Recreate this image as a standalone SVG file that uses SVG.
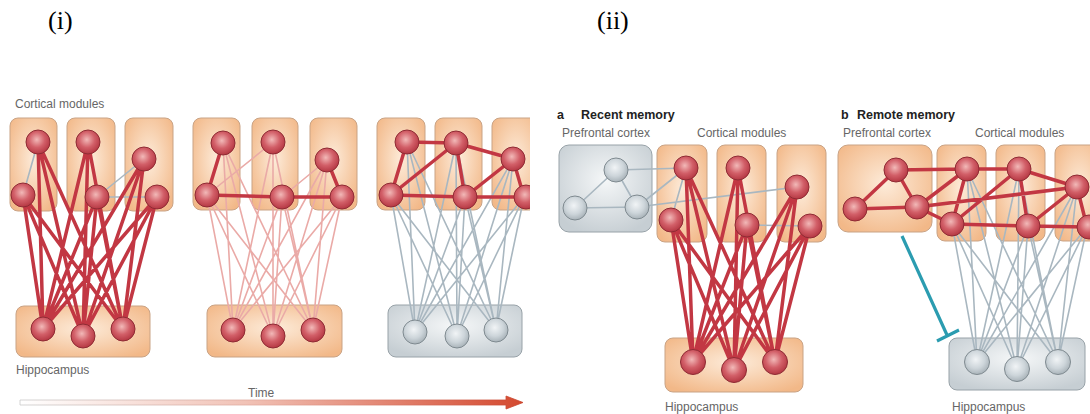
<svg xmlns="http://www.w3.org/2000/svg" width="1090" height="414" viewBox="0 0 1090 414">
<defs>
<radialGradient id="gOr" cx="50%" cy="45%" r="65%"><stop offset="0" stop-color="#fdebd9"/><stop offset="1" stop-color="#f2b888"/></radialGradient>
<radialGradient id="gGr" cx="50%" cy="40%" r="65%"><stop offset="0" stop-color="#f5f7f8"/><stop offset="1" stop-color="#c6ced3"/></radialGradient>
<radialGradient id="gNR" cx="45%" cy="40%" r="60%"><stop offset="0" stop-color="#f2b9b8"/><stop offset="0.55" stop-color="#d25f68"/><stop offset="1" stop-color="#b53843"/></radialGradient>
<radialGradient id="gNG" cx="45%" cy="40%" r="60%"><stop offset="0" stop-color="#f1f4f6"/><stop offset="0.6" stop-color="#cdd5da"/><stop offset="1" stop-color="#a9b3b9"/></radialGradient>
<linearGradient id="gTime" x1="0" y1="0" x2="1" y2="0"><stop offset="0" stop-color="#ffffff"/><stop offset="0.45" stop-color="#f1c2b6"/><stop offset="1" stop-color="#d4492f"/></linearGradient>
<linearGradient id="gTimeS" x1="0" y1="0" x2="1" y2="0"><stop offset="0" stop-color="#c9c9c9"/><stop offset="0.5" stop-color="#e3a89b"/><stop offset="1" stop-color="#c9432c"/></linearGradient>
<clipPath id="clipI"><rect x="0" y="0" width="530" height="414"/></clipPath>
</defs>
<style>
.bo{fill:url(#gOr);stroke:#c9a385;stroke-width:1}
.bg{fill:url(#gGr);stroke:#98a2a8;stroke-width:1}
.nr{fill:url(#gNR);stroke:#8f2b34;stroke-width:1}
.ng{fill:url(#gNG);stroke:#7f8a90;stroke-width:1}
.tk{stroke:#c23743;stroke-width:3.5;stroke-linecap:round;fill:none}
.gy{stroke:#a9b7c0;stroke-width:1.6;fill:none}
.pk{stroke:#eaaaa7;stroke-width:1.6;fill:none}
.lb{font-family:"Liberation Sans",Arial,sans-serif;font-size:12px;fill:#666}
.hd{font-family:"Liberation Sans",Arial,sans-serif;font-size:12.5px;font-weight:bold;fill:#222}
.rm{font-family:"Liberation Serif","Times New Roman",serif;font-size:26px;fill:#000}
</style>

<text class="rm" x="48" y="29">(i)</text>
<text class="rm" x="597" y="29">(ii)</text>

<!-- Panel (i) labels -->
<text class="lb" x="15" y="108">Cortical modules</text>
<text class="lb" x="16" y="374">Hippocampus</text>
<text class="lb" x="248" y="397">Time</text>

<!-- Panel (ii) labels -->
<text class="hd" x="557" y="119" font-size="13">a</text>
<text class="hd" x="581" y="119">Recent memory</text>
<text class="lb" x="562" y="137">Prefrontal cortex</text>
<text class="lb" x="697" y="137">Cortical modules</text>
<text class="lb" x="665" y="411">Hippocampus</text>
<text class="hd" x="841" y="119" font-size="13">b</text>
<text class="hd" x="857" y="119">Remote memory</text>
<text class="lb" x="843" y="137">Prefrontal cortex</text>
<text class="lb" x="975" y="137">Cortical modules</text>
<text class="lb" x="952" y="411">Hippocampus</text>

<!-- Boxes -->
<g id="s1-mod1"><rect class="bo" x="10" y="118" width="47" height="93" rx="8"/></g>
<g id="s1-mod2"><rect class="bo" x="67" y="118" width="48" height="93" rx="8"/></g>
<g id="s1-mod3"><rect class="bo" x="125" y="118" width="48" height="93" rx="8"/></g>
<g id="s1-hippo"><rect class="bo" x="16" y="306" width="134" height="51" rx="8"/></g>
<g id="s2-mod1"><rect class="bo" x="193" y="118" width="47" height="92" rx="8"/></g>
<g id="s2-mod2"><rect class="bo" x="252" y="118" width="46" height="92" rx="8"/></g>
<g id="s2-mod3"><rect class="bo" x="310" y="118" width="47" height="92" rx="8"/></g>
<g id="s2-hippo"><rect class="bo" x="207" y="305" width="135" height="52" rx="8"/></g>
<g id="s3-mod1"><rect class="bo" x="377" y="118" width="48" height="92" rx="8"/></g>
<g id="s3-mod2"><rect class="bo" x="435" y="118" width="47" height="92" rx="8"/></g>
<g id="s3-mod3" clip-path="url(#clipI)"><rect class="bo" x="492" y="118" width="48" height="92" rx="8"/></g>
<g id="s3-hippo"><rect class="bg" x="388" y="305" width="134" height="52" rx="8"/></g>

<g id="a-pfc"><rect class="bg" x="559" y="145" width="93" height="87" rx="10"/></g>
<g id="a-mod1"><rect class="bo" x="657" y="145" width="50" height="97" rx="8"/></g>
<g id="a-mod2"><rect class="bo" x="717" y="145" width="49" height="97" rx="8"/></g>
<g id="a-mod3"><rect class="bo" x="777" y="145" width="49" height="97" rx="8"/></g>
<g id="a-hippo"><rect class="bo" x="665" y="338" width="138" height="54" rx="8"/></g>
<g id="b-pfc"><rect class="bo" x="838" y="145" width="94" height="87" rx="10"/></g>
<g id="b-mod1"><rect class="bo" x="937" y="145" width="49" height="96" rx="8"/></g>
<g id="b-mod2"><rect class="bo" x="996" y="145" width="49" height="96" rx="8"/></g>
<g id="b-mod3"><rect class="bo" x="1055" y="145" width="49" height="96" rx="8"/></g>
<g id="b-hippo"><rect class="bg" x="949" y="338" width="136" height="52" rx="8"/></g>

<!-- Connectors -->
<g id="connectors">
  <!-- stage 1 -->
  <path class="gy" d="M38,142 L23,195 M97,197 L144,159 M97,197 L157,197"/>
  <path class="tk" d="M38,142 L43,329 M38,142 L83,336 M38,142 L123,329 M23,195 L43,329 M23,195 L83,336 M23,195 L123,329 M88,142 L43,329 M88,142 L83,336 M88,142 L123,329 M97,197 L43,329 M97,197 L83,336 M97,197 L123,329 M144,159 L43,329 M144,159 L83,336 M144,159 L123,329 M157,197 L43,329 M157,197 L83,336 M157,197 L123,329"/>
  <!-- stage 2 -->
  <path class="pk" d="M223,143 L233,330 M223,143 L273,336 M223,143 L313,330 M207,195 L233,330 M207,195 L273,336 M207,195 L313,330 M273,142 L233,330 M273,142 L273,336 M273,142 L313,330 M282,197 L233,330 M282,197 L273,336 M282,197 L313,330 M327,160 L233,330 M327,160 L273,336 M327,160 L313,330 M342,197 L233,330 M342,197 L273,336 M342,197 L313,330"/>
  <path class="pk" d="M207,195 L273,142 M282,197 L327,160"/>
  <path class="tk" d="M223,143 L207,195 M207,195 L282,197 M282,197 L342,197 M327,160 L342,197"/>
  <!-- stage 3 -->
  <path class="gy" d="M407,142 L415,332 M407,142 L457,336 M407,142 L496,330 M391,195 L415,332 M391,195 L457,336 M391,195 L496,330 M456,143 L415,332 M456,143 L457,336 M456,143 L496,330 M465,197 L415,332 M465,197 L457,336 M465,197 L496,330 M513,159 L415,332 M513,159 L457,336 M513,159 L496,330 M524,197 L415,332 M524,197 L457,336 M524,197 L496,330"/>
  <path class="tk" d="M407,142 L456,143 M407,142 L391,195 M391,195 L456,143 M456,143 L465,197 M456,143 L513,159 M391,195 L465,197 M465,197 L513,159 M465,197 L524,197 M513,159 L524,197"/>
  <!-- panel a -->
  <path class="gy" d="M616,170 L575,208 M616,170 L637,207 M575,208 L637,207 M616,170 L686,168 M637,207 L686,168 M637,207 L797,187 M686,168 L671,220 M747,225 L810,226"/>
  <path class="tk" d="M686,168 L693,362 M686,168 L734,370 M686,168 L775,362 M671,220 L693,362 M671,220 L734,370 M671,220 L775,362 M738,168 L693,362 M738,168 L734,370 M738,168 L775,362 M747,225 L693,362 M747,225 L734,370 M747,225 L775,362 M797,187 L693,362 M797,187 L734,370 M797,187 L775,362 M810,226 L693,362 M810,226 L734,370 M810,226 L775,362"/>
  <!-- panel b -->
  <path class="gy" d="M967,169 L977,362 M967,169 L1017,369 M967,169 L1058,362 M952,224 L977,362 M952,224 L1017,369 M952,224 L1058,362 M1019,169 L977,362 M1019,169 L1017,369 M1019,169 L1058,362 M1028,226 L977,362 M1028,226 L1017,369 M1028,226 L1058,362 M1077,187 L977,362 M1077,187 L1017,369 M1077,187 L1058,362 M1087,227 L977,362 M1087,227 L1017,369 M1087,227 L1058,362"/>
  <path class="tk" d="M896,170 L855,209 M896,170 L917,207 M855,209 L917,207 M896,170 L967,169 M917,207 L967,169 M917,207 L952,224 M917,207 L1077,187 M967,169 L1019,169 M967,169 L952,224 M952,224 L1019,169 M952,224 L1028,226 M1019,169 L1028,226 M1019,169 L1077,187 M1028,226 L1077,187 M1028,226 L1087,227 M1077,187 L1087,227"/>
  <!-- inhibition -->
  <path d="M902,236 L947,335 M937,341 L959,330" stroke="#2b9cb0" stroke-width="3.2" fill="none"/>
  <!-- time arrow -->
  <path d="M20,400 L506,400 L506,396 L523,402.5 L506,409 L506,405 L20,405 Z" fill="url(#gTime)" stroke="url(#gTimeS)" stroke-width="0.8"/>
</g>

<!-- Neurons -->
<g id="s1-n1"><circle class="nr" cx="38" cy="142" r="12"/></g>
<g id="s1-n2"><circle class="nr" cx="23" cy="195" r="12"/></g>
<g id="s1-n3"><circle class="nr" cx="88" cy="142" r="12"/></g>
<g id="s1-n4"><circle class="nr" cx="97" cy="197" r="12"/></g>
<g id="s1-n5"><circle class="nr" cx="144" cy="159" r="12"/></g>
<g id="s1-n6"><circle class="nr" cx="157" cy="197" r="12"/></g>
<g id="s1-h1"><circle class="nr" cx="43" cy="329" r="12"/></g>
<g id="s1-h2"><circle class="nr" cx="83" cy="336" r="12"/></g>
<g id="s1-h3"><circle class="nr" cx="123" cy="329" r="12"/></g>

<g id="s2-n1"><circle class="nr" cx="223" cy="143" r="12"/></g>
<g id="s2-n2"><circle class="nr" cx="207" cy="195" r="12"/></g>
<g id="s2-n3"><circle class="nr" cx="273" cy="142" r="12"/></g>
<g id="s2-n4"><circle class="nr" cx="282" cy="197" r="12"/></g>
<g id="s2-n5"><circle class="nr" cx="327" cy="160" r="12"/></g>
<g id="s2-n6"><circle class="nr" cx="342" cy="197" r="12"/></g>
<g id="s2-h1"><circle class="nr" cx="233" cy="330" r="12"/></g>
<g id="s2-h2"><circle class="nr" cx="273" cy="336" r="12"/></g>
<g id="s2-h3"><circle class="nr" cx="313" cy="330" r="12"/></g>

<g id="s3-n1"><circle class="nr" cx="407" cy="142" r="12"/></g>
<g id="s3-n2"><circle class="nr" cx="391" cy="195" r="12"/></g>
<g id="s3-n3"><circle class="nr" cx="456" cy="143" r="12"/></g>
<g id="s3-n4"><circle class="nr" cx="465" cy="197" r="12"/></g>
<g id="s3-n5"><circle class="nr" cx="513" cy="159" r="12"/></g>
<g id="s3-n6" clip-path="url(#clipI)"><circle class="nr" cx="526" cy="197" r="12"/></g>
<g id="s3-h1"><circle class="ng" cx="415" cy="332" r="12"/></g>
<g id="s3-h2"><circle class="ng" cx="457" cy="336" r="12"/></g>
<g id="s3-h3"><circle class="ng" cx="496" cy="330" r="12"/></g>

<g id="a-p1"><circle class="ng" cx="616" cy="170" r="12"/></g>
<g id="a-p2"><circle class="ng" cx="575" cy="208" r="12"/></g>
<g id="a-p3"><circle class="ng" cx="637" cy="207" r="12"/></g>
<g id="a-n1"><circle class="nr" cx="686" cy="168" r="12"/></g>
<g id="a-n2"><circle class="nr" cx="671" cy="220" r="12"/></g>
<g id="a-n3"><circle class="nr" cx="738" cy="168" r="12"/></g>
<g id="a-n4"><circle class="nr" cx="747" cy="225" r="12"/></g>
<g id="a-n5"><circle class="nr" cx="797" cy="187" r="12"/></g>
<g id="a-n6"><circle class="nr" cx="810" cy="226" r="12"/></g>
<g id="a-h1"><circle class="nr" cx="693" cy="362" r="12.5"/></g>
<g id="a-h2"><circle class="nr" cx="734" cy="370" r="12.5"/></g>
<g id="a-h3"><circle class="nr" cx="775" cy="362" r="12.5"/></g>

<g id="b-p1"><circle class="nr" cx="896" cy="170" r="12"/></g>
<g id="b-p2"><circle class="nr" cx="855" cy="209" r="12"/></g>
<g id="b-p3"><circle class="nr" cx="917" cy="207" r="12"/></g>
<g id="b-n1"><circle class="nr" cx="967" cy="169" r="12"/></g>
<g id="b-n2"><circle class="nr" cx="952" cy="224" r="12"/></g>
<g id="b-n3"><circle class="nr" cx="1019" cy="169" r="12"/></g>
<g id="b-n4"><circle class="nr" cx="1028" cy="226" r="12"/></g>
<g id="b-n5"><circle class="nr" cx="1077" cy="187" r="12"/></g>
<g id="b-n6"><circle class="nr" cx="1089" cy="227" r="12"/></g>
<g id="b-h1"><circle class="ng" cx="977" cy="362" r="12.5"/></g>
<g id="b-h2"><circle class="ng" cx="1017" cy="369" r="12.5"/></g>
<g id="b-h3"><circle class="ng" cx="1058" cy="362" r="12.5"/></g>
</svg>
